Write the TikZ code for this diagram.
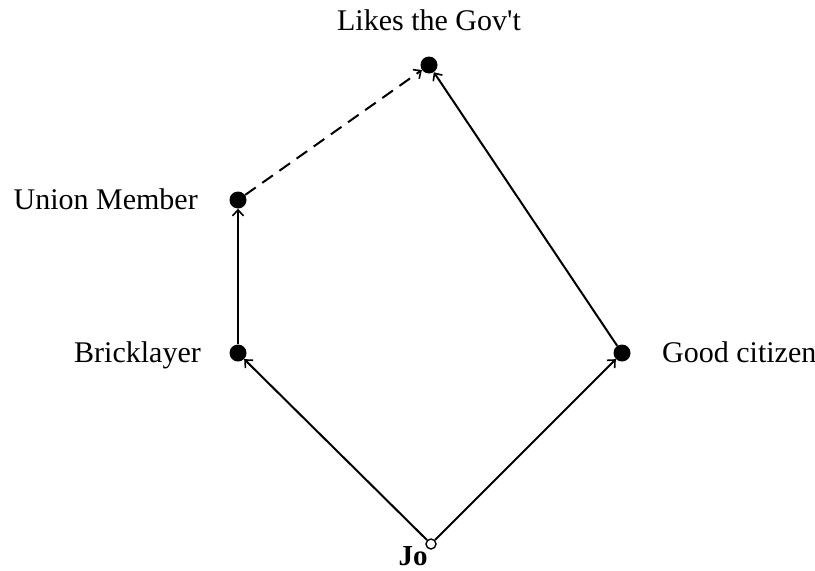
\documentclass[tikz,border=0pt]{standalone}
\usepackage{fontspec}
\setmainfont{Liberation Serif}
\usetikzlibrary{arrows.meta}
\begin{document}
\begin{tikzpicture}[x=1pt,y=-1pt,
  dotnode/.style={circle,fill=black,inner sep=0pt,minimum size=17pt},
  jonode/.style={circle,draw=black,fill=white,inner sep=0pt,minimum size=10pt,line width=1.4pt},
  lbl/.style={font=\fontsize{30}{36}\selectfont,inner sep=0pt},
  edge/.style={line width=2pt,-{Straight Barb[length=6pt,width=11pt,line width=1.6pt]}},
  dashedge/.style={edge,dash pattern=on 13pt off 8pt}]
\useasboundingbox (0,0) rectangle (815,571);
\node[dotnode] (l) at (429,65) {};
\node[dotnode] (u) at (238,200) {};
\node[dotnode] (b) at (238,353) {};
\node[dotnode] (g) at (622,353) {};
\node[jonode] (j) at (431,544) {};
\node[lbl,anchor=base] (ll) at (429,30) {Likes the Gov\textquotesingle t};
\node[lbl,anchor=base east] (ul) at (198,209) {Union Member};
\node[lbl,anchor=base east] (bl) at (201,362) {Bricklayer};
\node[lbl,anchor=base west] (gl) at (662,362) {Good citizen};
\node[lbl,anchor=base,font=\fontsize{29}{35}\selectfont\bfseries] (jl) at (413,565) {Jo};
\draw[edge] (j) -- (b);
\draw[edge] (j) -- (g);
\draw[edge] (b) -- (u);
\draw[edge] (g) -- (l);
\draw[dashedge] (u) -- (l);
\end{tikzpicture}
\end{document}
